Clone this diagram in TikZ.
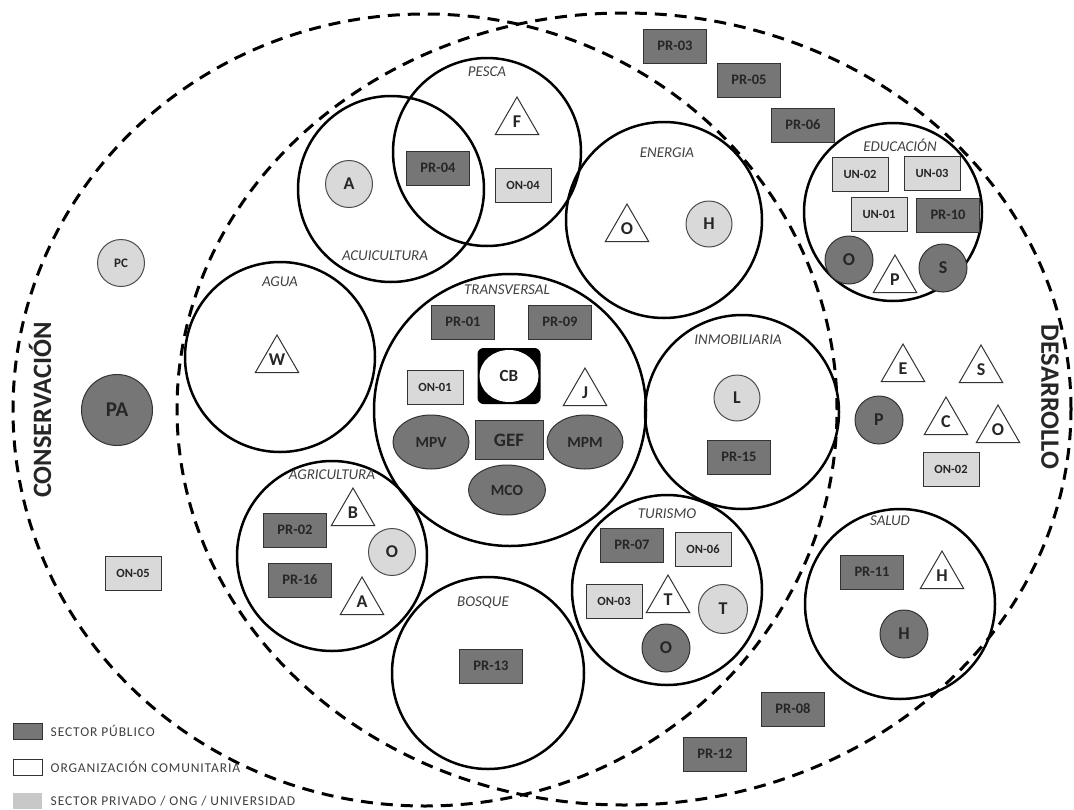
\documentclass[tikz,border=0pt]{standalone}
\usepackage{fontspec}
\setmainfont{Carlito}
\newfontfamily\legendfont[LetterSpace=6.5]{Carlito}
\usetikzlibrary{shapes.geometric, positioning}

\definecolor{pubgray}{RGB}{118,118,118}
\definecolor{privgray}{RGB}{217,217,217}
\definecolor{legprivgray}{RGB}{200,200,200}
\definecolor{inkgray}{RGB}{64,64,64}

\begin{document}
\begin{tikzpicture}[
    x = 1pt,
    y = -1pt,
    node distance = 8pt,
    ]

    \tikzstyle{zone}=[ellipse, draw=black, line width=3pt, dash pattern=on 12pt off 8pt]
    \tikzstyle{zonename}=[font=\bfseries\fontsize{26.5}{30}\selectfont, text=black!85]
    \tikzstyle{sector}=[circle, draw=black, line width=2.5pt]
    \tikzstyle{sectorname}=[font=\itshape\fontsize{15}{18}\selectfont, text=inkgray]
    \tikzstyle{pub}=[draw=black!80, line width=1pt, fill=pubgray, inner sep=0pt,
      minimum width=63pt, minimum height=34pt, text=black!85,
      font=\bfseries\fontsize{14.5}{17}\selectfont]
    \tikzstyle{priv}=[draw=black!80, line width=1pt, fill=privgray, inner sep=0pt,
      minimum width=56pt, minimum height=34pt, text=black!85,
      font=\bfseries\fontsize{12.5}{15}\selectfont]
    \tikzstyle{pubdot}=[circle, draw=black!80, line width=1pt, fill=pubgray, inner sep=0pt,
      minimum size=48pt, text=black!85, font=\bfseries\fontsize{18}{21}\selectfont]
    \tikzstyle{privdot}=[circle, draw=black!70, line width=1pt, fill=privgray, inner sep=0pt,
      minimum size=47pt, text=black!85, font=\bfseries\fontsize{18}{21}\selectfont]
    \tikzstyle{pubegg}=[ellipse, draw=black!80, line width=1pt, fill=pubgray, inner sep=0pt,
      minimum width=76pt, minimum height=54pt, text=black!85,
      font=\bfseries\fontsize{15.5}{18}\selectfont]
    \tikzstyle{comm}=[regular polygon, regular polygon sides=3, draw=black!80, line width=1pt,
      fill=white, inner sep=0pt, minimum size=50pt, text=black!85,
      font=\bfseries\fontsize{18}{21}\selectfont]
    \tikzstyle{legbox}=[minimum width=29pt, minimum height=16pt, inner sep=0pt, line width=1pt]
    \tikzstyle{legtext}=[font=\legendfont\fontsize{13.5}{16}\selectfont, text=inkgray, inner sep=0pt]

    \useasboundingbox (0,0) rectangle (1074,809);

    % conservacion / desarrollo
    \node[zone, minimum width=824pt, minimum height=792pt] (conserv) at (425,410) {};
    \node[zone, minimum width=894pt, minimum height=792pt] (desarr) at (624,409) {};
    \node[zonename, rotate=90] (conservname) at (40,410) {CONSERVACIÓN};
    \node[zonename, rotate=-90] (desarrname) at (1050,397) {DESARROLLO};

    % sectores
    \node[sector, minimum size=188pt] (pesca) at (487,152) {};
    \node[sector, minimum size=186pt] (acui) at (391,189) {};
    \node[sector, minimum size=190pt] (agua) at (280,357) {};
    \node[sector, minimum size=196pt] (energia) at (664,220) {};
    \node[sector, minimum size=178pt] (educ) at (893,212) {};
    \node[sector, minimum size=272pt] (transv) at (510,410) {};
    \node[sector, minimum size=194pt] (inmob) at (742,412) {};
    \node[sector, minimum size=190pt] (agri) at (332,556) {};
    \node[sector, minimum size=192pt] (bosque) at (488,673) {};
    \node[sector, minimum size=190pt] (turismo) at (667,590) {};
    \node[sector, minimum size=190pt] (salud) at (900,604) {};

    \node[sectorname] (pescaname) at (487,72) {PESCA};
    \node[sectorname] (acuiname) at (385,256) {ACUICULTURA};
    \node[sectorname] (aguaname) at (280,282) {AGUA};
    \node[sectorname] (energianame) at (667,153) {ENERGIA};
    \node[sectorname] (educname) at (900,145) {EDUCACIÓN};
    \node[sectorname] (transvname) at (507,290) {TRANSVERSAL};
    \node[sectorname] (inmobname) at (738,340) {INMOBILIARIA};
    \node[sectorname] (agriname) at (332,475) {AGRICULTURA};
    \node[sectorname] (bosquename) at (483,603) {BOSQUE};
    \node[sectorname] (turismoname) at (667,514) {TURISMO};
    \node[sectorname] (saludname) at (890,521) {SALUD};

    % pesca / acuicultura
    \node[privdot] (acuiA) at (349,184) {A};
    \node[pub] (pr04) at (438,168) {PR-04};
    \node[priv] (on04) at (523,185) {ON-04};
    \node[comm] (pescaF) at (517,122) {F};

    % agua, energia
    \node[comm] (aguaW) at (277,360) {W};
    \node[comm] (energiaO) at (627,229) {O};
    \node[privdot, minimum size=46pt] (energiaH) at (709,224) {H};

    % educacion
    \node[priv] (un02) at (860,174) {UN-02};
    \node[priv] (un03) at (932,173) {UN-03};
    \node[priv] (un01) at (879,214) {UN-01};
    \node[pub] (pr10) at (948,215) {PR-10};
    \node[pubdot] (educO) at (849,260) {O};
    \node[comm] (educP) at (895,280) {P};
    \node[pubdot] (educS) at (943,268) {S};

    % transversal
    \node[pub] (pr01) at (463,322) {PR-01};
    \node[pub] (pr09) at (560,322) {PR-09};
    \node[priv] (on01) at (435,387) {ON-01};
    \node[fill=black, rounded corners=6pt, minimum width=63pt, minimum height=56pt] (cbsq) at (509,376) {};
    \node[ellipse, fill=white, inner sep=0pt, minimum width=59pt, minimum height=52pt,
      text=black!85, font=\bfseries\fontsize{17}{20}\selectfont] (cb) at (cbsq) {CB};
    \node[comm] (transvJ) at (585,393) {J};
    \node[pubegg] (mpv) at (431,442) {MPV};
    \node[pub, minimum width=68pt, minimum height=39pt, font=\bfseries\fontsize{19}{22}\selectfont] (gef) at (509,440) {GEF};
    \node[pubegg] (mpm) at (585,442) {MPM};
    \node[pubegg, minimum width=77pt, minimum height=50pt] (mco) at (507,490) {MCO};

    % inmobiliaria
    \node[privdot, minimum size=46pt] (inmobL) at (737,398) {L};
    \node[pub] (pr15) at (739,457) {PR-15};

    % agricultura
    \node[pub] (pr02) at (295,530) {PR-02};
    \node[pub] (pr16) at (300,580) {PR-16};
    \node[comm] (agriB) at (353,513) {B};
    \node[privdot] (agriO) at (392,552) {O};
    \node[comm] (agriA) at (362,602) {A};

    % bosque
    \node[pub] (pr13) at (491,666) {PR-13};

    % turismo
    \node[pub] (pr07) at (632,545) {PR-07};
    \node[priv] (on06) at (703,549) {ON-06};
    \node[priv] (on03) at (614,601) {ON-03};
    \node[comm] (turismoT) at (668,600) {T};
    \node[privdot, minimum size=49pt] (turismoTc) at (723,609) {T};
    \node[pubdot] (turismoO) at (666,648) {O};

    % salud
    \node[pub] (pr11) at (872,572) {PR-11};
    \node[comm] (saludH) at (942,576) {H};
    \node[pubdot] (saludHc) at (904,634) {H};

    % fuera de los sectores
    \node[privdot, minimum size=47pt, font=\bfseries\fontsize{13}{15}\selectfont] (pc) at (121,263) {PC};
    \node[pubdot, minimum size=71pt, font=\bfseries\fontsize{21}{24}\selectfont] (pa) at (117,410) {PA};
    \node[priv] (on05) at (133,573) {ON-05};
    \node[pub] (pr03) at (675,46) {PR-03};
    \node[pub] (pr05) at (749,80) {PR-05};
    \node[pub] (pr06) at (803,125) {PR-06};
    \node[comm] (desE) at (903,369) {E};
    \node[comm] (desS) at (981,370) {S};
    \node[pubdot] (desP) at (879,420) {P};
    \node[comm] (desC) at (946,422) {C};
    \node[comm] (desO) at (998,430) {O};
    \node[priv] (on02) at (951,469) {ON-02};
    \node[pub] (pr08) at (793,709) {PR-08};
    \node[pub] (pr12) at (715,754) {PR-12};

    % leyenda
    \node[legbox, draw=black!80, fill=pubgray] (legpub) at (27.5,731) {};
    \node[legtext, right=8pt of legpub] (legpubtext) {SECTOR PÚBLICO};
    \node[legbox, draw=black!80, fill=white] (legcomm) at (27.5,767) {};
    \node[legtext, right=8pt of legcomm] (legcommtext) {ORGANIZACIÓN COMUNITARIA};
    \node[legbox, fill=legprivgray] (legpriv) at (27.5,801) {};
    \node[legtext, right=8pt of legpriv] (legprivtext) {SECTOR PRIVADO / ONG / UNIVERSIDAD};
  \end{tikzpicture}
\end{document}
